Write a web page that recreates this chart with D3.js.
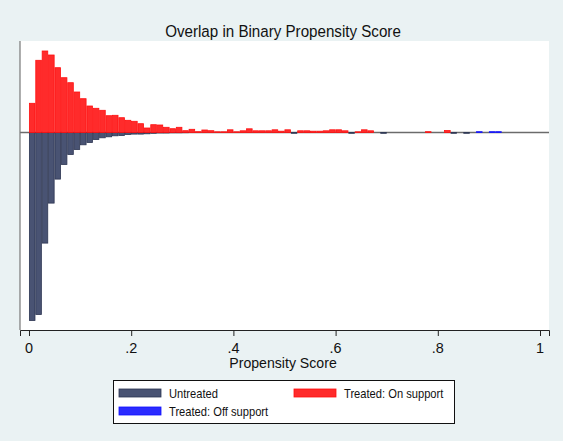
<html><head>
<meta charset="utf-8">
<title>Overlap in Binary Propensity Score</title>
<style>
  body {
    margin: 0;
    background-color: #eaf2f3;
    font-family: Arial, "Liberation Sans", sans-serif;
  }
</style>
<script src="https://d3js.org/d3.v7.min.js"></script>
</head>
<body>
<div id="chart"></div>
<script>
// histogram bins of width 0.0125 starting at 0, heights
const binWidth = 0.0125;
const treatedOn = [
  2.92, 7.22, 8.15, 7.75, 6.48, 5.48, 4.98, 4.05, 3.38, 2.65,
  2.42, 2.22, 1.68, 1.72, 1.48, 1.22, 1.12, 0.88, 0.45, 0.78,
  0.75, 0.52, 0.38, 0.52, 0.18, 0.32, 0.08, 0.25, 0.18, 0.07,
  0.07, 0.27, 0.07, 0.17, 0.37, 0.17, 0.17, 0.17, 0.27, 0.13,
  0.27, 0, 0.17, 0.17, 0.13, 0.13, 0.17, 0.27, 0.27, 0.17,
  0, 0.07, 0.27, 0.17, 0, 0, 0, 0, 0, 0,
  0, 0, 0.08, 0, 0, 0.2
];
const untreated = [
  18.8, 18.2, 11.06, 7.06, 4.66, 3.2, 2.2, 1.7, 1.23, 1.0,
  0.7, 0.53, 0.43, 0.33, 0.3, 0.2, 0.16, 0.16, 0.13, 0.08,
  0.05, 0.05, 0.03, 0.03, 0.02, 0, 0, 0, 0, 0,
  0, 0, 0, 0, 0, 0, 0, 0, 0, 0,
  0, 0.08, 0, 0, 0, 0, 0, 0, 0, 0,
  0.08, 0, 0, 0, 0, 0.08, 0, 0, 0, 0,
  0, 0, 0, 0, 0, 0, 0.08, 0, 0.08
];
const treatedOff = [
  0, 0, 0, 0, 0, 0, 0, 0, 0, 0,
  0, 0, 0, 0, 0, 0, 0, 0, 0, 0,
  0, 0, 0, 0, 0, 0, 0, 0, 0, 0,
  0, 0, 0, 0, 0, 0, 0, 0, 0, 0,
  0, 0, 0, 0, 0, 0, 0, 0, 0, 0,
  0, 0, 0, 0, 0, 0, 0, 0, 0, 0,
  0, 0, 0, 0, 0, 0, 0, 0, 0, 0,
  0.08, 0, 0.08, 0.08
];
const xTicks = [0, 0.2, 0.4, 0.6, 0.8, 1];
const legendItems = [
  { label: "Untreated", color: "#495373", stroke: "#2c3552" },
  { label: "Treated: On support", color: "#ff2b2b", stroke: "#ff1010" },
  { label: "Treated: Off support", color: "#2b2bff", stroke: "#1010ff" }
];

const width = 563, height = 441;
const squeeze = 0.93; // text in the picture is a little narrow
const svg = d3.select("#chart").append("svg")
  .attr("width", width)
  .attr("height", height);

svg.append("rect")
  .attr("width", width).attr("height", height)
  .attr("fill", "#eaf2f3");

const x = d3.scaleLinear().domain([-0.0176, 1.0176]).range([20, 549]);
const y = d3.scaleLinear().domain([-19.75, 9.15]).range([330, 41]);

function label(px, py, str, size, anchor) {
  return svg.append("text")
    .attr("transform", `translate(${px},${py}) scale(${squeeze},1)`)
    .attr("text-anchor", anchor || "middle")
    .attr("dy", "0.35em")
    .attr("font-size", size)
    .attr("fill", "#111")
    .text(str);
}

// plot region
svg.append("rect")
  .attr("x", 20).attr("y", 41)
  .attr("width", 529).attr("height", 289)
  .attr("fill", "white");

label(283, 31, "Overlap in Binary Propensity Score", 16.3);

// zero line
svg.append("line")
  .attr("x1", 20).attr("x2", 549)
  .attr("y1", y(0)).attr("y2", y(0))
  .attr("stroke", "#6b6b6b")
  .attr("stroke-width", 1.6);

function drawBars(values, sign, item) {
  const bw = x(binWidth) - x(0);
  svg.append("g").selectAll("rect")
    .data(values.map((v, i) => ({ i: i, v: v })).filter(d => d.v > 0))
    .join("rect")
    .attr("x", d => x(d.i * binWidth) + 0.4)
    .attr("width", bw - 0.8)
    .attr("y", d => sign > 0 ? y(d.v) : y(0))
    .attr("height", d => Math.abs(y(sign * d.v) - y(0)))
    .attr("fill", item.color)
    .attr("stroke", item.stroke)
    .attr("stroke-width", 0.8);
}

drawBars(untreated, -1, legendItems[0]);
drawBars(treatedOn, 1, legendItems[1]);
drawBars(treatedOff, 1, legendItems[2]);

// axes
svg.append("line")
  .attr("x1", 20).attr("x2", 20)
  .attr("y1", 41).attr("y2", 330)
  .attr("stroke", "#777")
  .attr("stroke-width", 1.2);

const fmt = d => d === 0 ? "0" : d === 1 ? "1" : String(d).replace(/^0/, "");
const xAxis = d3.axisBottom(x)
  .tickValues(xTicks)
  .tickSizeOuter(0)
  .tickSize(6)
  .tickFormat("");

const gx = svg.append("g")
  .attr("transform", "translate(0,330)")
  .call(xAxis);
gx.select(".domain").attr("stroke", "#222");
gx.selectAll(".tick line").attr("stroke", "#222");
xTicks.forEach(t => label(x(t), 348, fmt(t), 15.5));

label(283, 363, "Propensity Score", 15.2);

// legend
const legend = svg.append("g");
legend.append("rect")
  .attr("x", 113.5).attr("y", 380.5)
  .attr("width", 341).attr("height", 43)
  .attr("fill", "white")
  .attr("stroke", "#111")
  .attr("stroke-width", 1);

const legendPos = [[119, 389], [294, 389], [119, 407]];
legendItems.forEach((item, k) => {
  const [lx, ly] = legendPos[k];
  legend.append("rect")
    .attr("x", lx).attr("y", ly)
    .attr("width", 42).attr("height", 8)
    .attr("fill", item.color)
    .attr("stroke", item.stroke)
    .attr("stroke-width", 0.8);
  label(lx + 50, ly + 4.5, item.label, 12, "start");
});
</script>
</body></html>
